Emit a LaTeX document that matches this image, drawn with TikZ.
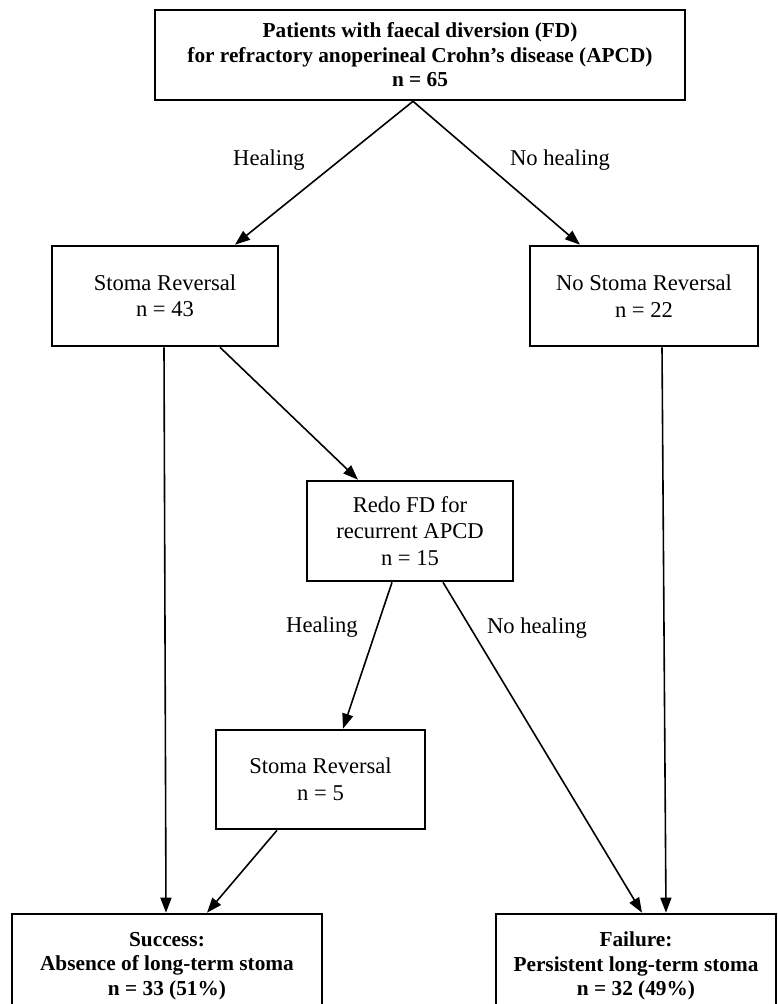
\documentclass[tikz,border=0pt]{standalone}
\usepackage{fontspec}
\setmainfont{Liberation Serif}
\usetikzlibrary{arrows.meta}
\begin{document}
\begin{tikzpicture}[x=1pt,y=-1pt,
  box/.style={draw=black, line width=2.6pt, align=center, inner sep=0pt,
    font=\fontsize{22.6}{26.5}\selectfont},
  bbox/.style={box, font=\fontsize{21.3}{24.5}\selectfont\bfseries},
  arr/.style={line width=1.6pt, -{Triangle[length=15pt,width=11pt]}},
  lbl/.style={font=\fontsize{22.6}{26}\selectfont, inner sep=0pt}]
\useasboundingbox (0,0) rectangle (778,1004);
\node[bbox, minimum width=530pt, minimum height=90pt] (top) at (420,55)
  {Patients with faecal diversion (FD)\\for refractory anoperineal Crohn’s disease (APCD)\\n = 65};
\node[box, minimum width=226pt, minimum height=100pt] (sr1) at (165,296)
  {Stoma Reversal\\n = 43};
\node[box, minimum width=228pt, minimum height=100pt] (nsr) at (644,296)
  {No Stoma Reversal\\n = 22};
\node[box, minimum width=206pt, minimum height=100pt] (redo) at (410,531)
  {Redo FD for\\recurrent APCD\\n = 15};
\node[box, minimum width=209pt, minimum height=99pt] (sr2) at (320.5,779.5)
  {Stoma Reversal\\n = 5};
\node[bbox, minimum width=310pt, minimum height=104pt] (succ) at (167,966)
  {Success:\\Absence of long-term stoma\\n = 33 (51\%)};
\node[bbox, minimum width=280pt, minimum height=104pt] (fail) at (636,966)
  {Failure:\\Persistent long-term stoma\\n = 32 (49\%)};
\draw[arr] ([xshift=-7pt]top.south) -- ([xshift=70pt]sr1.north);
\draw[arr] ([xshift=-7pt]top.south) -- ([xshift=-64pt]nsr.north);
\draw[arr] ([xshift=-1pt]sr1.south) -- ([xshift=-1pt]succ.north);
\draw[arr] ([xshift=55pt]sr1.south) -- ([xshift=-52pt]redo.north);
\draw[arr] ([xshift=18pt]nsr.south) -- ([xshift=30pt]fail.north);
\draw[arr] ([xshift=-18pt]redo.south) -- ([xshift=22.5pt]sr2.north);
\draw[arr] ([xshift=33pt]redo.south) -- ([xshift=6pt]fail.north);
\draw[arr] ([xshift=-43.5pt]sr2.south) -- ([xshift=40pt]succ.north);
\node[lbl] (l1) at (269,160) {Healing};
\node[lbl] (l2) at (560,160) {No healing};
\node[lbl] (l3) at (322,627) {Healing};
\node[lbl] (l4) at (537,628) {No healing};
\end{tikzpicture}
\end{document}
